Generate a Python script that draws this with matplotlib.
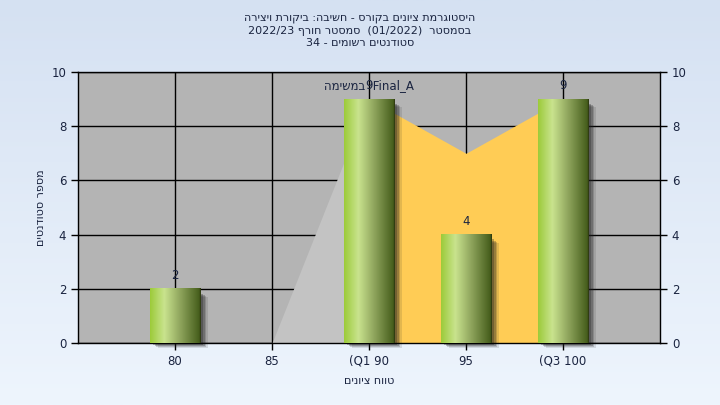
import re
import numpy as np
import matplotlib
matplotlib.use("Agg")
import matplotlib.pyplot as plt
from matplotlib.colors import LinearSegmentedColormap
from matplotlib.patches import Rectangle

# data
grades = [80, 85, 90, 95, 100]
students = [2, 0, 9, 4, 9]
tick_labels = ["80", "85", "(Q1 90", "95", "(Q3 100"]
range_x = [90, 95, 100]          # orange area (Q1..Q3)
range_y = [9, 7, 9]
lead_x = [85, 90]                # light grey area rising to Q1
lead_y = [0, 9]

title_lines = [
    "היסטוגרמת ציונים בקורס - חשיבה: ביקורת ויצירה",
    "בסמסטר  (01/2022)  סמסטר חורף 2022/23",
    "סטודנטים רשומים - 34",
]
xlabel = "טווח ציונים"
ylabel = "מספר סטודנטים"
area_label = "במשימה"


def heb(s):
    # crude visual ordering for right-to-left text
    r = s[::-1]
    r = re.sub(r"[0-9A-Za-z_/.]+", lambda m: m.group(0)[::-1], r)
    return r.translate(str.maketrans("()", ")("))


txt_color = "#1a2440"

fig = plt.figure(figsize=(7.2, 4.05), dpi=100)

# background gradient
bg = fig.add_axes([0, 0, 1, 1], zorder=-5)
bg_cmap = LinearSegmentedColormap.from_list("bg", ["#d5e1f2", "#eef5fd"])
bg.imshow(np.linspace(0, 1, 256).reshape(-1, 1), cmap=bg_cmap, aspect="auto",
          extent=[0, 1, 0, 1], origin="upper")
bg.axis("off")

ax = fig.add_axes([78 / 720, 1 - 343 / 405, (660 - 78) / 720, (343 - 72) / 405])
ax.set_facecolor("#b4b4b4")

# areas
ax.fill_between(lead_x, lead_y, 0, color="#c3c3c3", zorder=1, linewidth=0)
ax.fill_between(range_x, range_y, 0, color="#ffcc55", zorder=1, linewidth=0)

# bars with gradient and soft shadow
bar_w = 2.58
bar_cmap = LinearSegmentedColormap.from_list(
    "bar", [(0, "#9ccb3a"), (0.28, "#c9e38e"), (0.6, "#8ea45c"), (0.97, "#465e1c"),
            (1, "#2a3510")])
grad = np.linspace(0, 1, 128).reshape(1, -1)
for x, v in zip(grades, students):
    if v <= 0:
        continue
    x0 = x - bar_w / 2
    for k, a in enumerate([0.12, 0.18, 0.25, 0.3]):
        off = 0.40 - k * 0.08
        ax.add_patch(Rectangle((x0 + off, -0.2 + k * 0.04), bar_w, v - 0.1,
                               color="#202020", alpha=a, lw=0, zorder=2,
                               clip_on=False))
    ax.imshow(grad, cmap=bar_cmap, aspect="auto", zorder=3,
              extent=[x0, x0 + bar_w, 0, v])
    ax.text(x, v + 0.25, str(v), ha="center", va="bottom", fontsize=8.5,
            color=txt_color, zorder=5)

ax.text(90, 9.25, heb(area_label) + "  Final_A", ha="center", va="bottom",
        fontsize=8.5, color=txt_color, zorder=5)

ax.set_xlim(75, 105)
ax.set_ylim(0, 10)
ax.set_xticks(grades)
ax.set_xticklabels(tick_labels)
ax.set_yticks(range(0, 11, 2))
ax.grid(True, color="black", linewidth=1, zorder=0.5)
ax.set_axisbelow(True)
for sp in ax.spines.values():
    sp.set_color("black")
    sp.set_linewidth(1)
ax.tick_params(colors="black", labelcolor=txt_color, labelsize=8.5, length=5,
               width=1)

ax2 = ax.twinx()
ax2.set_ylim(0, 10)
ax2.set_yticks(range(0, 11, 2))
ax2.tick_params(colors="black", labelcolor=txt_color, labelsize=8.5, length=5,
                width=1)
for sp in ax2.spines.values():
    sp.set_visible(False)

ax.set_xlabel(heb(xlabel), fontsize=8, color=txt_color, labelpad=6)
ax.set_ylabel(heb(ylabel), fontsize=8, color=txt_color, labelpad=4)

for i, line in enumerate(title_lines):
    fig.text(0.5, 1 - (18 + 12.5 * i) / 405, heb(line), ha="center",
             va="center", fontsize=8, color=txt_color)

fig.savefig("out.png", dpi=100)
